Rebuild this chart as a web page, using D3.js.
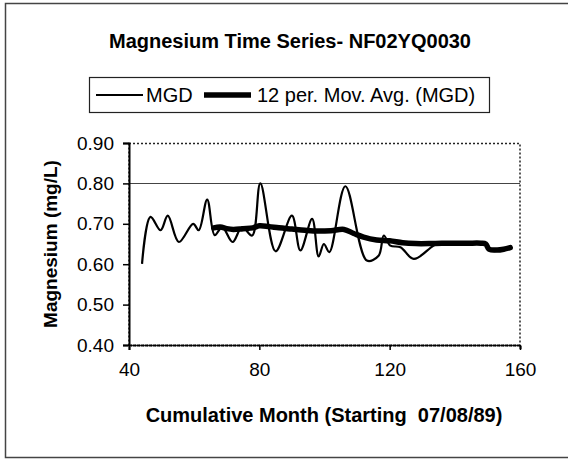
<!DOCTYPE html>
<html>
<head>
<meta charset="utf-8">
<script src="https://cdn.jsdelivr.net/npm/d3@7"></script>
<style>
  body { margin: 0; background: #fff; }
  svg text { font-family: "Liberation Sans", Arial, sans-serif; fill: #000; }
</style>
</head>
<body>
<div id="chart"></div>
<script>
// months and readings
const mgdMonth = [44, 46.6, 49.7, 51.9, 55.3, 59.7, 61.4, 64, 66.3, 68.6, 71.8, 74.7, 77.8, 80.3, 85, 90, 92.6, 96.2, 98.2, 99.8, 101.5, 106.4, 113, 116.6, 118.2, 120.2, 123.3, 127.4, 133.5, 135.6, 140, 145, 149, 150.4, 154, 156.5]
const mgdValue = [0.601, 0.717, 0.684, 0.72, 0.655, 0.70, 0.684, 0.76, 0.672, 0.692, 0.655, 0.692, 0.671, 0.80, 0.632, 0.72, 0.634, 0.712, 0.619, 0.65, 0.63, 0.793, 0.609, 0.621, 0.671, 0.646, 0.642, 0.613, 0.646, 0.652, 0.652, 0.652, 0.652, 0.635, 0.634, 0.642]

const avgMonth = [66, 68, 70, 72, 75, 78, 80, 83, 86, 90, 94, 98, 102, 106, 109, 112, 116, 120, 124, 128, 132, 136, 140, 144, 148, 149.5, 150.5, 153, 155, 157]
const avgValue = [0.690, 0.692, 0.688, 0.686, 0.688, 0.690, 0.695, 0.693, 0.690, 0.687, 0.684, 0.682, 0.683, 0.686, 0.676, 0.667, 0.660, 0.658, 0.653, 0.651, 0.651, 0.652, 0.652, 0.652, 0.652, 0.650, 0.637, 0.635, 0.637, 0.641]

const xTicks = [40, 80, 120, 160]
const yTicks = [0.40, 0.50, 0.60, 0.70, 0.80, 0.90]
const gridValues = [0.80]

const title = 'Magnesium Time Series- NF02YQ0030'
const xTitle = 'Cumulative Month (Starting  07/08/89)'
const yTitle = 'Magnesium (mg/L)'
const seriesNames = ['MGD', '12 per. Mov. Avg. (MGD)']

const width = 568
const height = 462
const margin = { top: 143, right: 48, bottom: 117, left: 129 }
const innerWidth = width - margin.left - margin.right
const innerHeight = height - margin.top - margin.bottom
const fontFamily = '"Liberation Sans", Arial, sans-serif'

const svg = d3.select('#chart')
  .append('svg')
  .attr('width', width)
  .attr('height', height)

// outer chart frame (right side runs off the page)
svg.append('rect')
  .attr('x', 5.5)
  .attr('y', 3.5)
  .attr('width', 580)
  .attr('height', 454)
  .attr('fill', 'none')
  .attr('stroke', '#444')
  .attr('stroke-width', 1.5)

svg.append('text')
  .attr('x', 290)
  .attr('y', 48)
  .attr('text-anchor', 'middle')
  .attr('font-size', 20)
  .attr('font-weight', 'bold')
  .text(title)

const xScale = d3.scaleLinear().domain([40, 160]).range([0, innerWidth])
const yScale = d3.scaleLinear().domain([0.40, 0.90]).range([innerHeight, 0])

const main = svg.append('g')
  .attr('transform', `translate(${margin.left}, ${margin.top})`)

// plot area border, dotted like the scan
main.append('rect')
  .attr('x', 0)
  .attr('y', 0.5)
  .attr('width', innerWidth)
  .attr('height', innerHeight)
  .attr('fill', 'none')
  .attr('stroke', '#222')
  .attr('stroke-width', 1.5)
  .attr('stroke-dasharray', '2,2')

main.selectAll('.grid')
  .data(gridValues)
  .enter()
  .append('line')
  .attr('class', 'grid')
  .attr('x1', 0)
  .attr('x2', innerWidth)
  .attr('y1', d => Math.round(yScale(d)) + 0.5)
  .attr('y2', d => Math.round(yScale(d)) + 0.5)
  .attr('stroke', '#444')
  .attr('stroke-width', 1)

const xAxis = d3.axisBottom(xScale)
  .tickValues(xTicks)
  .tickSize(5)
  .tickPadding(13)
  .tickFormat(d3.format('d'))

const yAxis = d3.axisLeft(yScale)
  .tickValues(yTicks)
  .tickSize(6)
  .tickPadding(9)
  .tickFormat(d3.format('.2f'))

const gx = main.append('g')
  .attr('transform', `translate(0, ${innerHeight})`)
  .call(xAxis)

const gy = main.append('g')
  .call(yAxis)

// d3 sets its own font on the axis groups, so override afterwards
gx.attr('font-size', 19).attr('font-family', fontFamily)
gy.attr('font-size', 19).attr('font-family', fontFamily)
gx.select('.domain').attr('stroke-width', 2).attr('stroke-dasharray', '3,1')
gy.select('.domain').attr('stroke-width', 2)
gx.selectAll('.tick line').attr('stroke-width', 1.5)
gy.selectAll('.tick line').attr('stroke-width', 1.5)

svg.append('text')
  .attr('x', 324)
  .attr('y', 422)
  .attr('text-anchor', 'middle')
  .attr('font-size', 20)
  .attr('font-weight', 'bold')
  .style('white-space', 'pre')
  .text(xTitle)

svg.append('text')
  .attr('transform', `translate(57, ${margin.top + innerHeight / 2}) rotate(-90)`)
  .attr('text-anchor', 'middle')
  .attr('font-size', 19)
  .attr('font-weight', 'bold')
  .text(yTitle)

const mgd = mgdMonth.map((m, i) => [m, mgdValue[i]])
const avg = avgMonth.map((m, i) => [m, avgValue[i]])

const line = d3.line()
  .x(d => xScale(d[0]))
  .y(d => yScale(d[1]))
  .curve(d3.curveCatmullRom.alpha(0.5))

main.append('path')
  .datum(mgd)
  .attr('d', line)
  .attr('fill', 'none')
  .attr('stroke', '#000')
  .attr('stroke-width', 2.2)

main.append('path')
  .datum(avg)
  .attr('d', line)
  .attr('fill', 'none')
  .attr('stroke', '#000')
  .attr('stroke-width', 5.5)
  .attr('stroke-linecap', 'round')

// legend
const legend = svg.append('g')
  .attr('transform', 'translate(89, 77)')

legend.append('rect')
  .attr('x', 0.5)
  .attr('y', 0.5)
  .attr('width', 400)
  .attr('height', 35)
  .attr('fill', '#fff')
  .attr('stroke', '#222')
  .attr('stroke-width', 1.2)

const legendLines = [
  { x: 7, w: 2, textX: 57 },
  { x: 115, w: 5.5, textX: 168 }
]

legend.selectAll('line')
  .data(legendLines)
  .enter()
  .append('line')
  .attr('x1', d => d.x)
  .attr('x2', d => d.x + 47)
  .attr('y1', 18)
  .attr('y2', 18)
  .attr('stroke', '#000')
  .attr('stroke-width', d => d.w)

legend.selectAll('text')
  .data(seriesNames)
  .enter()
  .append('text')
  .attr('x', (d, i) => legendLines[i].textX)
  .attr('y', 18)
  .attr('dy', '0.35em')
  .attr('font-size', 20)
  .text(d => d)
</script>
</body>
</html>
